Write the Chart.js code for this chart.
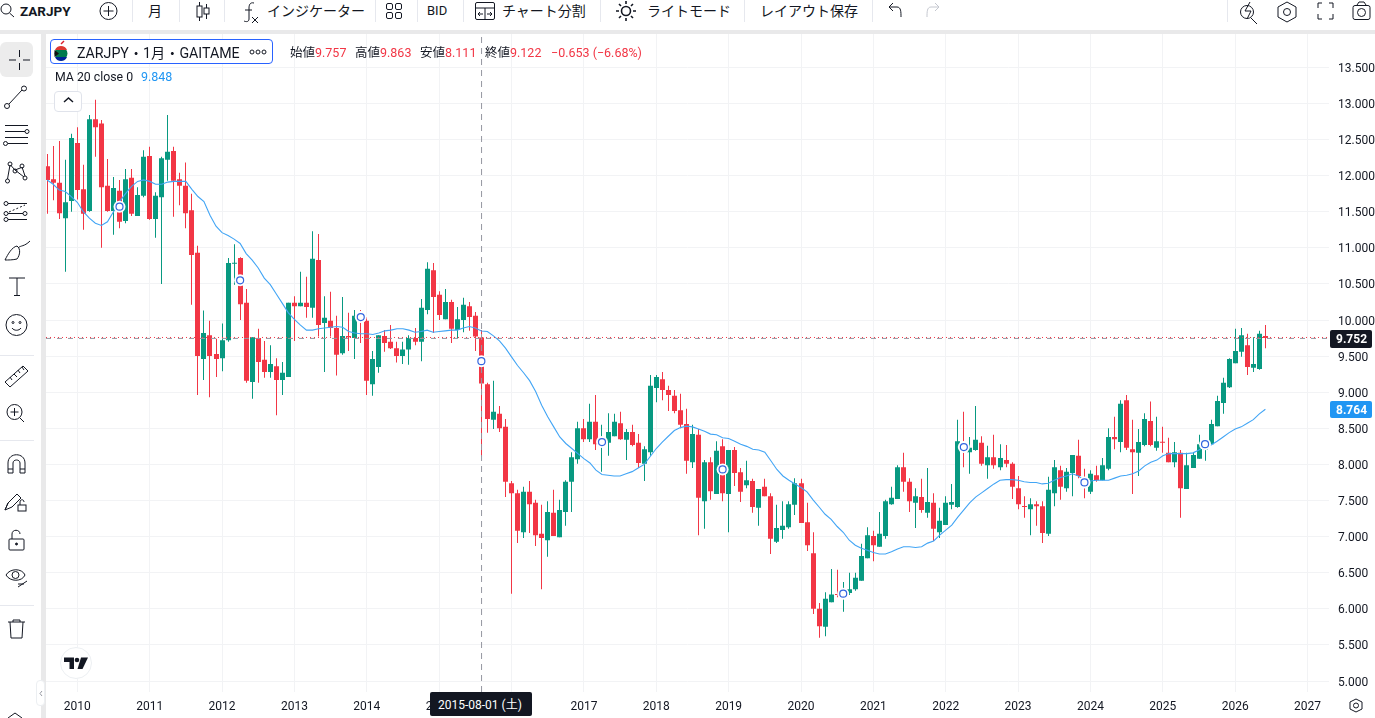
<!DOCTYPE html>
<html lang="ja">
<head>
<meta charset="utf-8">
<title>ZARJPY</title>
<script src="https://cdn.jsdelivr.net/npm/chart.js@4/dist/chart.umd.js"></script>
<style>
html,body{margin:0;padding:0;background:#fff;width:1375px;height:718px;overflow:hidden}
body{font-family:Roboto,"Noto Sans CJK JP",sans-serif;color:#131722}
#c{position:absolute;left:0;top:0}
.p{position:absolute}
.t{position:absolute;white-space:nowrap;line-height:16px;font-size:13px}
.r{color:#f23645}
#ov{position:absolute;left:0;top:0;pointer-events:none}
</style>
</head>
<body>
<canvas id="c" width="1375" height="718"></canvas>

<div class="p" style="left:0;top:0;width:1375px;height:30px;background:#fff"></div>
<div class="p" style="left:0;top:30px;width:1375px;height:4px;background:#e9e9ea"></div>
<div class="p" style="left:0;top:34px;width:41px;height:684px;background:#fff"></div>
<div class="p" style="left:41px;top:34px;width:5px;height:684px;background:#e9e9ea"></div>
<div class="p" style="left:0;top:42px;width:33px;height:35px;background:#ececec;border-radius:6px"></div>
<div class="p" style="left:36px;top:680px;width:9px;height:26px;background:#fff;border:1px solid #eceff2;border-radius:4px;box-sizing:border-box"></div>

<span class="t" style="left:20px;top:3px;font-weight:700;font-size:13.5px">ZARJPY</span>
<span class="t" style="left:148px;top:3px;font-size:14px">月</span>
<span class="t" style="left:267px;top:3px;font-size:14px">インジケーター</span>
<span class="t" style="left:427px;top:3px;font-size:13px">BID</span>
<span class="t" style="left:502px;top:3px;font-size:14px">チャート分割</span>
<span class="t" style="left:647px;top:3px;font-size:14px">ライトモード</span>
<span class="t" style="left:760px;top:3px;font-size:14px">レイアウト保存</span>

<div class="p" style="left:50px;top:39px;width:223px;height:25px;border:1px solid #2962ff;border-radius:4px;box-sizing:border-box;background:#fff"></div>
<span class="t" style="left:77px;top:44.500px;font-size:14.2px">ZARJPY・1月・GAITAME</span>
<span class="t" style="left:290px;top:45px;font-size:12.5px">始値<span class="r">9.757</span></span>
<span class="t" style="left:355px;top:45px;font-size:12.5px">高値<span class="r">9.863</span></span>
<span class="t" style="left:420px;top:45px;font-size:12.5px">安値<span class="r">8.111</span></span>
<span class="t" style="left:485px;top:45px;font-size:12.5px">終値<span class="r">9.122</span></span>
<span class="t r" style="left:551px;top:45px;font-size:12.5px">−0.653 (−6.68%)</span>
<span class="t" style="left:55px;top:69px;font-size:12.3px">MA 20 close 0</span>
<span class="t" style="left:141px;top:69px;font-size:12.5px;color:#2196f3">9.848</span>
<div class="p" style="left:54px;top:91px;width:28px;height:21px;border:1px solid #e0e3eb;border-radius:4px;box-sizing:border-box;background:#fff"></div>

<div class="p" style="left:1330px;top:330px;width:42px;height:18px;background:#131722;border-radius:2px"></div>
<span class="t" style="left:1336px;top:331px;font-size:12px;color:#fff;font-weight:700">9.752</span>
<div class="p" style="left:1330px;top:401px;width:42px;height:17px;background:#2196f3;border-radius:2px"></div>
<span class="t" style="left:1336px;top:402px;font-size:12px;color:#fff;font-weight:700">8.764</span>

<div class="p" style="left:430px;top:692px;width:102px;height:24px;background:#131722;border-radius:2px"></div>
<span class="t" style="left:438px;top:697px;font-size:12px;color:#fff">2015-08-01 (土)</span>

<svg id="ov" width="1375" height="718" viewBox="0 0 1375 718" fill="none" stroke="#131722" stroke-width="1">
  <!-- toolbar separators -->
  <g stroke="#e6e8ee">
    <path d="M132.5 0V22M179.5 0V22M224.5 0V22M375.5 0V22M417.5 0V22M463.5 0V22M600.5 0V22M744.5 0V22M872.5 0V22M1227.5 0V22"/>
    <path d="M0 355.5H34M0 440.5H34M0 605.5H34"/>
  </g>
  <!-- search -->
  <circle cx="6" cy="9" r="5"/><path d="M9.5 13L14 17"/>
  <!-- add -->
  <circle cx="108.5" cy="11" r="8.5"/><path d="M108.5 6V16M103.5 11H113.5"/>
  <!-- candles -->
  <path d="M199.5 2V21M206.5 4V19"/><rect x="197" y="6" width="5" height="11" fill="#fff"/><rect x="204" y="8" width="5" height="6" fill="#fff"/>
  <!-- fx -->
  <path d="M254 3C250 2 249 5 249 8V19C249 22 246 22 244 21M245 10H252"/><path d="M252 17L258 23M258 17L252 23"/>
  <!-- grid -->
  <rect x="386.5" y="3.5" width="6" height="6" rx="1.5"/><rect x="395.5" y="3.5" width="6" height="6" rx="1.5"/><rect x="386.5" y="12.5" width="6" height="6" rx="1.5"/><rect x="395.5" y="12.5" width="6" height="6" rx="1.5"/>
  <!-- split -->
  <rect x="475.5" y="2.5" width="19" height="17" rx="1.5"/><path d="M475 8H495M485 8V20M478 14H483M487 14H492M480 12L478 14L480 16M490 12L492 14L490 16"/>
  <!-- sun -->
  <circle cx="626" cy="11" r="4.5" stroke-width="1.6"/><path stroke-width="1.6" d="M626 1V4M626 18V21M616 11H619M633 11H636M619 4L621 6M631 16L633 18M619 18L621 16M631 6L633 4"/>
  <!-- undo redo -->
  <path d="M889 7L893 3M889 7L893 11M889 7H897C901 7 901 12 901 17"/>
  <path stroke="#c4c7cf" d="M939 7L935 3M939 7L935 11M939 7H931C927 7 927 12 927 17"/>
  <!-- right icons -->
  <circle cx="1247" cy="12" r="6.5"/><path d="M1251 18L1257 24M1250 2L1245 11H1251L1247 19"/>
  <path d="M1287 2L1296 7V17L1287 22L1278 17V7Z"/><circle cx="1287" cy="12" r="3.5"/>
  <path d="M1318 8V3H1322M1329 3H1333V8M1318 14V19H1322M1329 19H1333V14"/>
  <rect x="1353" y="5.5" width="17" height="14" rx="2"/><path d="M1357 5L1359 2H1364L1366 5"/><circle cx="1361.5" cy="12.5" r="4"/>
  <!-- left tools -->
  <path d="M19.5 50V57M19.5 63V70M9 60H16M23 60H30"/>
  <circle cx="24" cy="88.500" r="2.5"/><circle cx="7" cy="106" r="2.5"/><path d="M9 104L22 90"/>
  <path d="M5 125.500H28M5 131.500H25M5 137.500H28M8 143.500H28"/><circle cx="27" cy="131.500" r="2"/><circle cx="5.500" cy="143.500" r="2"/>
  <path d="M10 165L7.500 179M10.500 165L15 170M15 170L21.500 167.500M15 170L24 177M22 167L25 176"/><circle cx="10" cy="164" r="2"/><circle cx="22" cy="166" r="2"/><circle cx="15" cy="171" r="2"/><circle cx="7.500" cy="181" r="2"/><circle cx="25" cy="178" r="2"/>
  <path d="M8 203.500H27M8 213.500H23M8 219.500H27"/><path d="M9 212L25 205" stroke-dasharray="2 2"/><circle cx="6" cy="203.500" r="2"/><circle cx="6" cy="213.500" r="2"/><circle cx="6" cy="219.500" r="2"/><circle cx="25" cy="213.500" r="2"/>
  <path d="M5 260C8 254 12 247 17 246C21 249 20 255 17 259C13 260 8 260 5 260ZM18 248C21 245 24 247 30 241"/>
  <path d="M9 278H25M17 278V295.500M14 295.500H20"/>
  <circle cx="16.500" cy="325" r="10.500"/><circle cx="13" cy="322.500" r="1"/><circle cx="20" cy="322.500" r="1"/><path d="M12 328C14 331 19 331 21 328"/>
  <path d="M5 382L23 366L28 371L10 387ZM10 377L12 380M14 374L17 377M18 370L20 373M22 367L24 370"/>
  <circle cx="14.500" cy="412" r="7.500"/><path d="M20 418L24 422M14.500 408V416M10.500 412H18.500"/>
  <path d="M8 473V463C8 452 25 452 25 463V473H20V463C20 459 13 459 13 463V473ZM8 469H13M20 469H25"/>
  <path d="M5 510L8 503L17 494L21 498L12 507ZM5 510L8 503"/><rect x="18" y="505" width="8" height="6"/><path d="M20 505V502C20 499 24 499 24 502"/>
  <rect x="9" y="539" width="15" height="11" rx="1"/><path d="M12 539V534C12 529 20 529 20 534"/><circle cx="16.500" cy="544" r="1" fill="#131722"/>
  <path d="M6 575C10 568 22 568 25 575C22 582 10 582 6 575Z"/><circle cx="15.500" cy="575" r="3.500"/><path d="M18 587L27 581M18 584L24 584"/>
  <path d="M8 622H25M13 622V620H20V622M10 622L11 638H22L23 622"/>
  <path d="M8 718L15 713L22 718" />
  <path stroke="#9598a1" d="M42 691L40 693.500L42 696"/>
  <path stroke="#131722" stroke-width="1.500" d="M64 102L68.500 98L73 102"/>
  <!-- settings bottom right -->
  <path d="M1356 699L1362 702V709L1356 712L1350 709V702Z"/><circle cx="1356" cy="705.500" r="2.500"/>
  <!-- legend dots -->
  <g stroke="#131722"><circle cx="252" cy="52" r="2"/><circle cx="258" cy="52" r="2"/><circle cx="264" cy="52" r="2"/></g>
  <!-- flag -->
  <circle cx="61" cy="53.500" r="6.500" fill="#007a4d" stroke="none"/>
  <path stroke="none" fill="#de3831" d="M55 50A6.500 6.500 0 0 1 67 50H60Z"/>
  <path stroke="none" fill="#002395" d="M55 57A6.500 6.500 0 0 0 67 57H60Z"/>
  <path stroke="none" fill="#111" d="M54.500 50L59 53.500L54.500 57Z"/>
  <path stroke="#db1c2b" stroke-width="1.500" d="M61 44L64 41"/>
  <!-- logo -->
  <circle cx="76" cy="663" r="15.500" fill="#fff" stroke="#eceff2"/>
  <path stroke="none" fill="#131722" d="M64 657.500H74V669H69.500V662H64Z"/>
  <circle cx="77" cy="660" r="2.300" stroke="none" fill="#131722"/>
  <path stroke="none" fill="#131722" d="M81 657.500H88L82.500 669H77.500Z"/>
</svg>

<script>
const firstMonth = -5;
const yearZero = 2010;

const opens = [
12.13,11.95,11.90,11.41,11.65,12.45,11.81,11.51,12.78,12.72,
11.86,11.51,11.79,11.37,11.97,11.44,11.72,12.27,11.40,11.70,
12.22,12.34,11.95,11.86,11.52,10.93,9.46,9.79,9.53,9.47,
9.72,10.78,10.86,10.24,9.14,9.75,9.45,9.28,9.36,9.17,
9.21,10.24,10.19,10.24,10.17,10.83,9.96,9.99,9.89,9.54,
9.78,9.75,10.06,9.99,9.11,9.35,9.78,9.70,9.61,9.50,
9.59,9.75,9.70,10.14,10.69,10.35,10.01,10.25,9.86,10.00,
10.19,10.06,9.757,9.11,8.62,8.70,8.52,7.74,7.60,7.06,
7.62,7.47,7.04,6.95,7.33,6.99,7.34,7.76,8.07,8.50,
8.35,8.59,8.25,8.30,8.39,8.57,8.34,8.45,8.30,8.01,
8.17,9.06,9.18,9.03,8.95,8.75,8.56,8.03,8.41,7.49,
8.03,7.59,8.25,7.59,8.20,7.89,7.71,7.77,7.40,7.69,
7.56,6.93,7.09,7.13,7.44,7.74,7.20,6.77,6.00,5.75,
6.09,6.20,6.16,6.22,6.27,6.39,6.70,7.01,6.86,7.01,
7.45,7.52,7.96,7.76,7.47,7.55,7.33,7.47,7.06,7.16,
7.44,7.41,8.31,8.17,8.20,8.30,7.99,8.10,7.96,8.06,
8.01,7.67,7.42,7.38,7.45,7.42,7.04,7.60,7.92,7.67,
7.88,8.12,7.81,7.62,7.85,7.78,7.94,8.38,8.31,8.89,
8.21,8.16,8.27,8.60,8.23,8.31,8.16,8.03,8.16,7.66,
7.95,8.08,8.20,8.28,8.53,8.85,9.07,9.40,9.56,9.65,
9.34,9.32,9.78];

const closes = [
11.94,11.90,11.48,11.63,12.52,11.80,11.47,12.78,12.67,11.84,
11.51,11.83,11.36,11.95,11.47,11.73,12.26,11.40,11.72,12.24,
12.33,11.93,11.86,11.48,10.90,9.50,9.82,9.50,9.46,9.72,
10.79,10.79,10.22,9.16,9.76,9.42,9.28,9.39,9.17,9.27,
10.24,10.19,10.24,10.18,10.85,9.93,10.03,9.89,9.52,9.78,
9.76,10.06,9.99,9.16,9.46,9.79,9.68,9.61,9.50,9.59,
9.75,9.70,10.17,10.71,10.32,10.07,10.25,9.88,10.01,10.21,
10.04,9.77,9.122,8.63,8.73,8.50,7.76,7.60,7.08,7.62,
7.45,7.02,6.98,7.34,7.01,7.37,7.76,8.10,8.50,8.35,
8.59,8.28,8.34,8.45,8.59,8.35,8.45,8.27,8.02,8.21,
9.09,9.21,9.03,8.96,8.74,8.55,8.05,8.42,7.54,8.03,
7.63,8.19,7.60,8.20,7.88,7.62,7.78,7.41,7.66,7.56,
6.97,7.12,7.15,7.45,7.74,7.19,6.88,6.00,5.76,6.14,
6.20,6.19,6.26,6.27,6.43,6.73,7.02,6.88,7.04,7.49,
7.54,7.96,7.76,7.49,7.56,7.37,7.48,7.11,7.22,7.47,
7.48,8.32,8.20,8.23,8.34,8.01,8.10,7.99,8.09,8.01,
7.69,7.45,7.41,7.45,7.42,7.05,7.65,7.96,7.69,7.90,
8.13,7.84,7.71,7.87,7.78,7.99,8.38,8.35,8.84,8.23,
8.17,8.31,8.63,8.27,8.32,8.30,8.03,8.17,7.67,7.99,
8.13,8.28,8.32,8.56,8.88,9.13,9.46,9.57,9.79,9.35,
9.39,9.81,9.75];

const highs = [
12.30,12.41,12.48,12.22,12.58,12.67,12.15,12.84,13.05,12.77,
12.23,11.98,11.94,12.09,12.09,11.84,12.35,12.40,11.77,12.26,
12.84,12.40,12.04,12.18,11.75,11.03,10.13,9.99,9.74,9.95,
10.86,11.05,10.87,10.43,9.76,9.88,9.71,9.65,9.47,9.42,
10.24,10.33,10.67,10.60,11.23,11.19,10.33,10.39,10.06,10.32,
10.10,10.14,10.14,10.04,9.57,9.79,9.86,9.93,9.70,9.70,
9.79,9.89,10.29,10.80,10.79,10.40,10.43,10.28,10.18,10.31,
10.25,10.11,9.863,9.13,9.16,8.81,8.63,7.77,7.65,7.69,
7.77,7.51,7.44,7.49,7.65,7.51,7.78,8.17,8.59,8.63,
8.84,8.96,8.55,8.71,8.70,8.73,8.49,8.55,8.42,8.25,
9.24,9.24,9.28,9.09,9.03,8.98,8.77,8.55,8.49,8.06,
8.10,8.32,8.35,8.20,8.24,7.95,8.05,7.80,7.66,7.80,
7.60,7.44,7.49,7.49,7.81,7.80,7.47,7.06,6.08,6.23,
6.55,6.54,6.37,6.50,6.50,6.90,7.13,7.08,7.34,7.51,
7.69,7.99,8.16,7.81,7.67,7.80,7.95,7.60,7.40,7.56,
7.73,8.62,8.73,8.38,8.81,8.39,8.26,8.41,8.28,8.27,
8.03,7.84,7.56,7.53,7.49,7.49,7.83,8.06,7.98,7.95,
8.13,8.34,7.94,7.92,7.98,8.09,8.50,8.66,8.89,8.96,
8.62,8.49,8.71,8.87,8.66,8.52,8.37,8.31,8.20,8.16,
8.16,8.41,8.34,8.62,8.95,9.20,9.47,9.88,9.89,9.81,
9.76,9.85,9.93];

const lows = [
11.47,11.66,11.40,10.67,11.50,11.67,11.25,11.50,12.26,11.00,
11.50,11.18,11.27,11.34,11.44,11.44,11.70,11.39,11.14,10.50,
11.93,11.43,11.59,11.27,10.21,8.96,9.17,8.93,9.21,9.29,
9.70,10.49,10.00,9.13,8.91,9.13,9.20,9.20,8.68,8.96,
9.21,9.71,10.19,10.03,10.03,9.77,9.28,9.77,9.23,9.52,
9.57,9.46,9.68,8.96,8.95,9.27,9.56,9.60,9.41,9.39,
9.38,9.65,9.43,10.08,9.82,10.00,10.01,9.68,9.75,9.83,
9.85,9.57,8.111,8.44,8.49,8.45,7.55,6.21,6.91,6.98,
7.05,6.87,6.27,6.72,7.01,6.99,7.15,7.34,8.01,8.31,
8.31,8.20,7.90,8.12,8.39,8.34,8.06,8.25,7.95,7.77,
8.12,8.86,8.89,8.74,8.71,8.50,7.87,7.95,7.02,7.11,
7.51,7.59,7.49,7.06,7.70,7.48,7.67,7.33,7.15,7.56,
6.76,6.91,6.97,7.11,7.30,7.19,6.80,5.93,5.60,5.62,
6.09,6.16,5.96,6.19,6.25,6.39,6.70,6.66,6.86,6.97,
7.44,7.52,7.62,7.34,7.12,7.33,7.26,6.94,6.98,7.16,
7.38,7.40,7.96,7.87,8.19,7.98,7.80,7.94,7.92,7.96,
7.52,7.38,7.26,7.02,7.15,6.91,7.01,7.42,7.51,7.62,
7.56,7.81,7.53,7.59,7.76,7.78,7.92,8.21,8.17,8.20,
7.59,7.84,8.25,8.25,8.19,8.16,8.03,7.96,7.26,7.66,
7.95,8.08,8.05,8.28,8.53,8.70,9.06,9.40,9.49,9.24,
9.28,9.31,9.61];

const ma20 = [
11.94,11.88,11.80,11.78,11.71,11.63,11.50,11.41,11.34,11.31,
11.36,11.50,11.64,11.75,11.85,11.92,11.94,11.92,11.88,11.88,
11.91,11.92,11.92,11.92,11.81,11.71,11.64,11.45,11.30,11.21,
11.17,11.12,11.06,10.92,10.83,10.72,10.58,10.49,10.36,10.23,
10.10,10.01,9.93,9.86,9.86,9.88,9.89,9.90,9.91,9.90,
9.84,9.82,9.81,9.81,9.80,9.82,9.85,9.86,9.88,9.88,
9.86,9.83,9.84,9.86,9.83,9.84,9.85,9.86,9.86,9.89,
9.91,9.89,9.848,9.84,9.78,9.71,9.61,9.49,9.37,9.27,
9.16,9.01,8.82,8.66,8.52,8.38,8.29,8.22,8.15,8.08,
8.02,7.92,7.86,7.85,7.84,7.84,7.87,7.90,7.95,8.00,
8.11,8.22,8.31,8.39,8.47,8.51,8.53,8.52,8.49,8.46,
8.42,8.41,8.37,8.36,8.32,8.28,8.25,8.21,8.20,8.17,
8.05,7.93,7.84,7.78,7.73,7.68,7.62,7.51,7.41,7.31,
7.24,7.14,7.06,6.95,6.88,6.84,6.81,6.78,6.76,6.76,
6.79,6.83,6.86,6.86,6.85,6.86,6.91,6.94,7.02,7.09,
7.16,7.27,7.37,7.47,7.55,7.61,7.67,7.73,7.78,7.79,
7.79,7.78,7.76,7.75,7.75,7.73,7.74,7.78,7.82,7.84,
7.87,7.84,7.78,7.77,7.78,7.78,7.78,7.81,7.84,7.85,
7.87,7.91,7.98,8.03,8.06,8.12,8.15,8.15,8.15,8.15,
8.16,8.20,8.25,8.27,8.32,8.38,8.44,8.49,8.52,8.57,
8.62,8.70,8.764];

const markerMonths = [7,27,47,67,87,107,127,147,167,187];
const markerValues = [11.57,10.55,10.04,9.43,8.31,7.93,6.21,8.24,7.75,8.28];
const crosshairMonth = 67.03;
const crosshairValue = 9.745;
const lastPrice = 9.758;

const UP = '#089981', DOWN = '#f23645', MA = '#42a5f5', GRID = '#f2f3f5';
const candleColors = opens.map((o,i)=> closes[i] < o ? DOWN : UP);
const monthOf = i => i + firstMonth;

const xMin = -5.19, xMax = 207.55, yMin = 4.848, yMax = 14;

const snapBars = {
  id:'snapBars',
  beforeDatasetsDraw(chart){
    chart.data.datasets.forEach((d,i)=>{
      if(d.type!=='bar') return;
      chart.getDatasetMeta(i).data.forEach(el=>{ el.x = Math.floor(el.x)+0.5; });
    });
  }
};
const inRange = s => { s.ticks = s.ticks.filter(t=>t.value>s.min && t.value<s.max); };

new Chart(document.getElementById('c'),{
  type:'bar',
  plugins:[snapBars],
  data:{datasets:[
    {type:'bar',label:'wick',order:6,grouped:false,barThickness:1,inflateAmount:0,
      backgroundColor:candleColors,
      data:lows.map((l,i)=>({x:monthOf(i),y:[l,highs[i]]}))},
    {type:'bar',label:'body',order:5,grouped:false,barThickness:5,inflateAmount:0,minBarLength:1,
      backgroundColor:candleColors,
      data:opens.map((o,i)=>({x:monthOf(i),y:[o,closes[i]]}))},
    {type:'line',label:'MA 20',order:4,borderColor:MA,borderWidth:1.1,pointRadius:0,tension:0,
      data:ma20.map((v,i)=>({x:monthOf(i),y:v}))},
    {type:'line',label:'crossH',order:3.5,borderColor:'#9598a1',borderWidth:1,borderDash:[5,6],pointRadius:0,
      data:[{x:xMin,y:crosshairValue},{x:xMax,y:crosshairValue}]},
    {type:'line',label:'last',order:3,borderColor:'#f23645',borderWidth:1,borderDash:[1,3],pointRadius:0,
      data:[{x:xMin,y:lastPrice},{x:xMax,y:lastPrice}]},
    {type:'line',label:'crossV',order:3,borderColor:'#9598a1',borderWidth:1,borderDash:[6,5],pointRadius:0,
      data:[{x:crosshairMonth,y:yMin},{x:crosshairMonth,y:yMax}]},
    {type:'line',label:'halo',order:2,showLine:false,pointRadius:6,pointBackgroundColor:'#fff',pointBorderWidth:0,
      data:markerMonths.map((m,i)=>({x:m,y:markerValues[i]}))},
    {type:'line',label:'markers',order:1,showLine:false,pointRadius:3.5,pointBackgroundColor:'#fff',pointBorderColor:'#3366e0',pointBorderWidth:1.2,
      data:markerMonths.map((m,i)=>({x:m,y:markerValues[i]}))}
  ]},
  options:{
    responsive:false,animation:false,
    layout:{padding:{left:46,top:31.2,right:0,bottom:0}},
    plugins:{legend:{display:false},tooltip:{enabled:false}},
    scales:{
      x:{type:'linear',offset:false,min:xMin,max:xMax,
        afterFit(s){s.height=26;},afterBuildTicks:inRange,
        grid:{color:GRID,drawTicks:false,offset:false},border:{display:false},
        ticks:{stepSize:12,includeBounds:false,autoSkip:false,maxRotation:0,padding:8,color:'#131722',
          font:{family:'Roboto',size:12},callback:v=>String(yearZero+v/12)}},
      y:{type:'linear',position:'right',min:yMin,max:yMax,
        afterFit(s){s.width=46;},afterBuildTicks:inRange,
        grid:{color:GRID,drawTicks:false},border:{display:false},
        ticks:{stepSize:0.5,includeBounds:false,autoSkip:false,padding:9,labelOffset:1.5,color:'#131722',
          font:{family:'Roboto',size:12},callback:v=>v.toFixed(3)}}
    }
  }
});
</script>
</body>
</html>
